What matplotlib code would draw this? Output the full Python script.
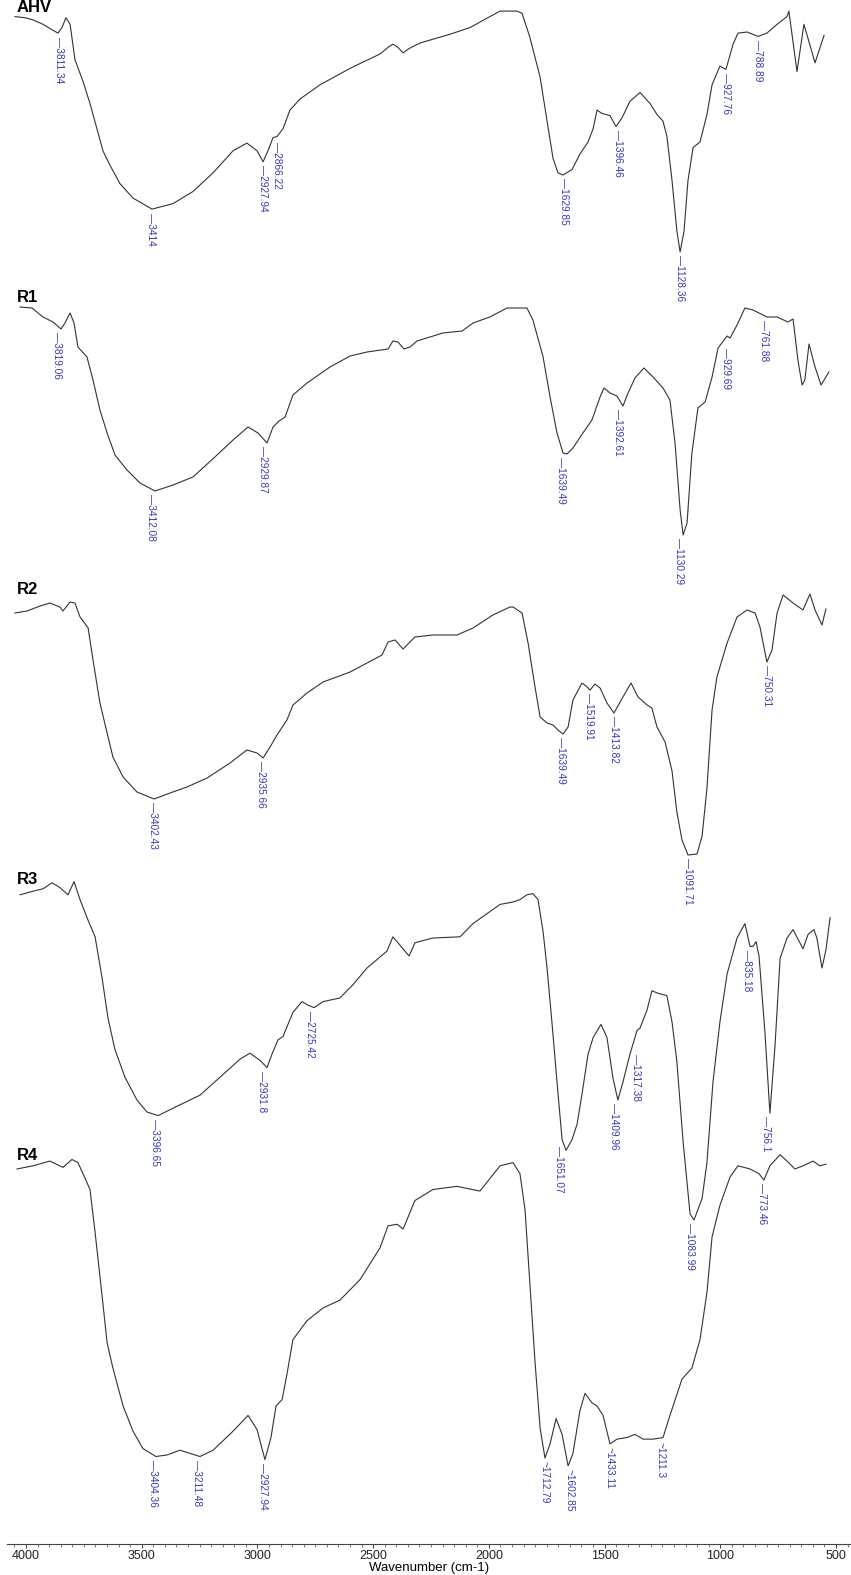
import numpy as np
import matplotlib.pyplot as plt
from matplotlib.ticker import MultipleLocator

plt.rcParams['font.family'] = ['Liberation Sans', 'DejaVu Sans']

# FTIR traces: wavenumber (cm-1) and transmittance (a.u.)
ahv_wn = [4000, 3957, 3922, 3879, 3840, 3814, 3797, 3780, 3762, 3741, 3706, 3676, 3646, 3620,
          3590, 3546, 3490, 3408, 3317, 3231, 3144, 3058, 2998, 2954, 2928, 2907, 2885, 2868,
          2842, 2812, 2769, 2682, 2552, 2423, 2388, 2367, 2345, 2323, 2297, 2250, 2120, 2034,
          1948, 1904, 1831, 1809, 1775, 1731, 1701, 1675, 1654, 1632, 1593, 1559, 1524, 1502,
          1485, 1464, 1429, 1403, 1377, 1343, 1299, 1256, 1226, 1200, 1183, 1161, 1140, 1126,
          1109, 1092, 1070, 1040, 1010, 988, 954, 928, 897, 876, 837, 789, 751, 707, 664, 656,
          621, 591, 543, 504]
ahv_t = [222, 221, 219, 215, 210, 207, 212, 221, 215, 183, 163, 143, 120, 100,
         87, 70, 57, 47, 52, 63, 80, 100, 107, 100, 90, 100, 112, 113,
         120, 137, 147, 160, 175, 188, 194, 197, 194, 189, 193, 198, 206, 212,
         222, 227, 227, 225, 203, 167, 127, 93, 80, 78, 83, 97, 108, 120,
         137, 134, 132, 122, 130, 145, 153, 143, 133, 127, 113, 73, 27, 8,
         27, 73, 103, 108, 133, 160, 177, 174, 197, 207, 208, 204, 207, 215, 222, 227,
         172, 215, 180, 205]
ahv_peaks = ['3811.34', '3414', '2927.94', '2866.22', '1629.85', '1396.46', '1128.36',
             '927.76', '788.89']

r1_wn = [3978, 3927, 3879, 3836, 3801, 3784, 3762, 3745, 3728, 3689, 3663, 3633, 3602, 3568,
         3516, 3460, 3395, 3317, 3231, 3127, 3058, 2993, 2950, 2911, 2885, 2859, 2833, 2799,
         2738, 2639, 2552, 2479, 2388, 2367, 2345, 2319, 2293, 2263, 2151, 2068, 2021, 1948,
         1874, 1788, 1762, 1718, 1688, 1658, 1632, 1615, 1589, 1546, 1507, 1472, 1455, 1429,
         1399, 1373, 1351, 1321, 1282, 1243, 1200, 1170, 1148, 1126, 1113, 1096, 1075, 1049,
         1018, 988, 962, 923, 910, 880, 846, 811, 751, 707, 660, 638, 617, 599, 587, 569,
         543, 517, 483]
r1_t = [233, 232, 223, 218, 211, 217, 227, 217, 193, 183, 160, 130, 107, 85,
        70, 57, 49, 55, 63, 85, 100, 113, 107, 97, 113, 119, 123, 145,
        157, 173, 184, 188, 191, 199, 198, 191, 193, 199, 207, 209, 217, 223,
        232, 232, 220, 183, 143, 107, 87, 86, 92, 107, 120, 143, 152, 147,
        144, 134, 147, 162, 172, 163, 152, 140, 97, 30, 5, 17, 87, 132,
        138, 163, 192, 204, 202, 215, 232, 230, 223, 223, 218, 221, 180, 155, 160, 196,
        173, 155, 168]
r1_peaks = ['3819.06', '3412.08', '2929.87', '1639.49', '1392.61', '1130.29', '929.69',
            '761.88']

r2_wn = [4000, 3948, 3892, 3849, 3806, 3793, 3762, 3741, 3719, 3684, 3663, 3633, 3602, 3577,
         3533, 3473, 3399, 3330, 3257, 3170, 3071, 2998, 2954, 2928, 2898, 2868, 2825, 2799,
         2738, 2669, 2552, 2414, 2388, 2358, 2323, 2272, 2194, 2090, 2021, 1935, 1861, 1848,
         1809, 1783, 1753, 1731, 1701, 1675, 1654, 1632, 1610, 1589, 1550, 1528, 1515, 1494,
         1472, 1442, 1412, 1373, 1338, 1308, 1269, 1248, 1226, 1191, 1161, 1140, 1118, 1092,
         1053, 1031, 1010, 988, 967, 923, 880, 837, 802, 781, 751, 729, 707, 681, 638, 595,
         565, 543, 513, 496]
r2_t = [297, 299, 304, 307, 303, 299, 308, 307, 293, 282, 250, 207, 177, 153,
        133, 118, 111, 117, 123, 132, 147, 160, 157, 152, 163, 175, 190, 205,
        217, 228, 238, 255, 268, 270, 261, 273, 275, 275, 282, 295, 303, 303,
        297, 267, 223, 193, 187, 185, 180, 176, 183, 210, 227, 223, 220, 226,
        222, 207, 197, 213, 227, 213, 205, 202, 183, 168, 139, 98, 70, 55,
        56, 74, 122, 200, 233, 267, 293, 300, 297, 283, 248, 260, 297, 315, 307, 300,
        316, 300, 285, 301]
r2_peaks = ['3402.43', '2935.66', '1639.49', '1519.91', '1413.82', '1091.71', '750.31']

r3_wn = [3978, 3922, 3879, 3840, 3806, 3771, 3745, 3719, 3689, 3654, 3624, 3598, 3568, 3525,
         3473, 3430, 3382, 3287, 3201, 3114, 3028, 2985, 2941, 2911, 2890, 2864, 2842, 2799,
         2760, 2734, 2708, 2669, 2596, 2540, 2479, 2393, 2367, 2345, 2315, 2297, 2272, 2194,
         2077, 2021, 1948, 1904, 1848, 1818, 1788, 1762, 1740, 1718, 1701, 1680, 1658, 1636,
         1619, 1593, 1571, 1550, 1524, 1502, 1468, 1442, 1416, 1395, 1373, 1343, 1312, 1299,
         1269, 1248, 1222, 1183, 1161, 1140, 1113, 1083, 1066, 1031, 1010, 984, 954, 923,
         880, 846, 824, 811, 798, 785, 759, 738, 716, 694, 664, 638, 595, 573, 548, 535,
         513, 496, 478]
r3_t = [276, 279, 281, 286, 282, 276, 287, 272, 257, 241, 207, 173, 147, 124,
        105, 95, 92, 101, 109, 124, 139, 144, 138, 132, 143, 155, 158, 178,
        187, 184, 182, 187, 190, 201, 215, 229, 241, 236, 229, 225, 236, 240,
        241, 252, 262, 268, 270, 272, 276, 277, 272, 245, 215, 170, 120, 72,
        63, 72, 85, 110, 143, 157, 168, 157, 123, 105, 120, 143, 163, 165,
        180, 196, 194, 192, 170, 137, 70, 10, 5, 23, 53, 120, 170, 210,
        240, 252, 233, 233, 237, 225, 160, 94, 150, 223, 240, 247, 231, 243, 247, 240,
        215, 230, 257]
r3_peaks = ['3396.65', '2931.8', '2725.42', '1651.07', '1409.96', '1317.38', '1083.99',
            '835.18', '756.1']

r4_wn = [3991, 3922, 3849, 3793, 3754, 3728, 3697, 3676, 3654, 3624, 3602, 3577, 3533, 3490,
         3447, 3391, 3343, 3287, 3244, 3201, 3144, 3058, 2993, 2954, 2920, 2894, 2872, 2846,
         2825, 2799, 2738, 2669, 2596, 2509, 2423, 2388, 2349, 2323, 2272, 2194, 2090, 1991,
         1904, 1848, 1818, 1796, 1775, 1753, 1731, 1710, 1688, 1662, 1636, 1610, 1589, 1559,
         1537, 1507, 1485, 1459, 1429, 1399, 1356, 1321, 1286, 1243, 1200, 1170, 1118, 1075,
         1040, 1010, 988, 954, 910, 876, 824, 785, 764, 738, 694, 664, 630, 595, 552, 522,
         496]
r4_t = [188, 190, 193, 189, 194, 192, 182, 175, 148, 108, 78, 62, 38, 22,
        11, 6, 7, 10, 8, 6, 10, 22, 32, 23, 4, 18, 38, 42,
        58, 80, 92, 100, 105, 118, 138, 152, 153, 150, 168, 175, 177, 174,
        190, 192, 185, 162, 115, 66, 24, 5, 14, 30, 20, 0, 8, 35,
        46, 40, 38, 32, 14, 17, 18, 20, 17, 17, 18, 32, 55, 62,
        80, 110, 145, 165, 183, 190, 188, 185, 181, 190, 197, 193, 188, 190, 193, 190,
        191]
r4_peaks = ['3404.36', '3211.48', '2927.94', '~1712.79', '~1602.85', '~1433.11', '~1211.3',
            '773.46']

names = ['AHV', 'R1', 'R2', 'R3', 'R4']
wns = [ahv_wn, r1_wn, r2_wn, r3_wn, r4_wn]
trans = [ahv_t, r1_t, r2_t, r3_t, r4_t]
peaks = [ahv_peaks, r1_peaks, r2_peaks, r3_peaks, r4_peaks]

# layout in pixels of the 851 x 1575 canvas
W, H = 851, 1575
panel_base = [260.8, 540, 910, 1226, 1466]   # y pixel of transmittance 0
panel_scale = [1.1, 1.0, 1.0, 1.2, 1.58]     # pixels per transmittance unit
name_y = [8, 298, 590, 880, 1155]
BLUE = '#3838b0'
LINE = '#333333'

fig = plt.figure(figsize=(W / 100, H / 100), dpi=100)

for name, wn, t, pk, base, sc, ny in zip(names, wns, trans, peaks, panel_base,
                                         panel_scale, name_y):
    ax = fig.add_axes([7 / W, (H - base) / H, 844 / W, 420 / H])
    ax.set_xlim(4034.6, 387.6)
    ax.set_ylim(0, 420 / sc)
    ax.axis('off')
    ax.plot(wn, t, color=LINE, lw=0.8)

    x_asc = np.array(wn, float)[::-1]
    t_asc = np.array(t, float)[::-1]
    for lab in pk:
        val = float(lab.lstrip('~'))
        txt = lab if lab.startswith('~') else '\u2014' + lab
        # label hangs under the lowest point of the band
        grid = np.linspace(val - 20, val + 20, 41)
        y0 = np.interp(grid, x_asc, t_asc).min()
        ax.annotate(txt, xy=(val, y0), xytext=(0, -2.5), textcoords='offset points',
                    rotation=-90, ha='center', va='top', fontsize=7.3, color=BLUE,
                    annotation_clip=False)

    fig.text(17 / W, 1 - ny / H, name, fontsize=12, fontweight='bold', ha='left', va='center')

# wavenumber scale at the bottom
axx = fig.add_axes([7 / W, (H - 1544) / H, 844 / W, 0.001])
axx.patch.set_visible(False)
axx.set_xlim(4082.1, 435.2)
for s in ['top', 'left', 'right']:
    axx.spines[s].set_visible(False)
axx.spines['bottom'].set_color('#444444')
axx.spines['bottom'].set_linewidth(0.8)
axx.set_yticks([])
axx.xaxis.set_major_locator(MultipleLocator(500))
axx.xaxis.set_minor_locator(MultipleLocator(50))
axx.tick_params(axis='x', which='major', direction='out', length=3, width=0.6,
                labelsize=9, pad=1, colors='#222222')
axx.tick_params(axis='x', which='minor', direction='out', length=2, width=0.5,
                colors='#444444')
axx.set_xlabel('Wavenumber (cm-1)', fontsize=9.5, labelpad=0)

fig.savefig('out.png', dpi=100)
